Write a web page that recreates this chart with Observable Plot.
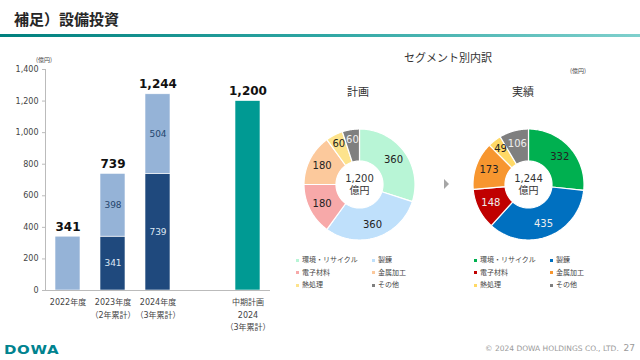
<!DOCTYPE html>
<html><head><meta charset="utf-8">
<script src="https://cdn.jsdelivr.net/npm/d3@7"></script>
<script src="https://cdn.jsdelivr.net/npm/@observablehq/plot@0.6"></script>
<style>
html,body{margin:0;padding:0;background:#fff;}
#page{position:relative;width:640px;height:360px;overflow:hidden;font-family:"DejaVu Sans","Noto Sans CJK JP",sans-serif;color:#333;}
.abs{position:absolute;white-space:nowrap;}
#title{left:14px;top:8px;font-family:"Noto Sans CJK JP";font-weight:700;font-size:15px;color:#262626;}
#rule{left:0;top:34px;width:640px;height:3px;background:linear-gradient(to right,#00807e,#2ea6a3 50%,#7fd0cd);}
.legend{font-family:"Noto Sans CJK JP";font-size:7px;color:#444;}
.legend span.sw{display:inline-block;width:3px;height:3px;margin-right:3px;vertical-align:middle;}
.tri{width:0;height:0;border-top:5px solid transparent;border-bottom:5px solid transparent;border-left:5px solid #a6a6a6;}
</style></head>
<body><div id="page">
<div id="title" class="abs">補足）設備投資</div>
<div id="rule" class="abs"></div>
<div class="abs" style="left:36px;top:55px;font-size:6px;font-family:'Noto Sans CJK JP';color:#444">(億円)</div>
<div id="bars" class="abs" style="left:0;top:50px"></div>
<div class="abs" style="left:400px;top:49px;width:96px;text-align:center;font-family:'Noto Sans CJK JP';font-size:11px;color:#333">セグメント別内訳</div>
<div class="abs" style="left:570px;top:66px;font-size:6px;font-family:'Noto Sans CJK JP';color:#444">(億円)</div>
<div class="abs" style="left:336px;top:83px;width:44px;text-align:center;font-family:'Noto Sans CJK JP';font-size:11px;color:#333">計画</div>
<div class="abs" style="left:501px;top:83px;width:44px;text-align:center;font-family:'Noto Sans CJK JP';font-size:11px;color:#333">実績</div>
<div id="donut1" class="abs" style="left:298.5px;top:124px"></div>
<div id="donut2" class="abs" style="left:467.5px;top:124px"></div>
<div class="abs tri" style="left:444px;top:179px"></div>
<div id="leg1" class="abs legend" style="left:296px;top:254px"></div>
<div id="leg2" class="abs legend" style="left:474px;top:254px"></div>
<div class="abs" style="left:4px;top:343px;font-family:'DejaVu Sans';font-weight:900;font-size:12px;color:#00838f;letter-spacing:0.5px;transform:scaleX(1.25);transform-origin:left center">DOWA</div>
<div class="abs" style="right:5px;top:343px;font-family:'DejaVu Sans';font-size:7.5px;color:#9a9a9a">© 2024 DOWA HOLDINGS CO., LTD.&nbsp;&nbsp;<span style="font-size:9px">27</span></div>
</div>
<script>
// ---- Bar chart data ----
const categories = ["2022年度", "2023年度\n（2年累計）", "2024年度\n（3年累計）", " ", "中期計画\n2024\n（3年累計）"];
const prevCumulative = [0, 341, 739];
const yearAmount = [341, 398, 504];
const totals = [341, 739, 1244];
const planValue = 1200;
const yTicks = [0, 200, 400, 600, 800, 1000, 1200, 1400];

// ---- Segment data ----
const segments = ["環境・リサイクル", "製錬", "電子材料", "金属加工", "熱処理", "その他"];
const planValues = [360, 360, 180, 180, 60, 60];
const actualValues = [332, 435, 148, 173, 49, 106];
const planTotal = 1200;
const actualTotal = 1244;
const planColors = ["#b8f5d6", "#bfe0fb", "#f7a9a9", "#fcc99c", "#fde38c", "#7f7f7f"];
const actualColors = ["#00b050", "#0070c0", "#c00000", "#f7962f", "#ffd966", "#7f7f7f"];
const planLabelLight = [false, false, false, false, false, true];
const actualLabelLight = [false, true, true, false, false, true];

const fontFam = "DejaVu Sans, Noto Sans CJK JP, sans-serif";

// bars
const stackRows = [];
categories.slice(0, 3).forEach((c, i) => {
  stackRows.push({cat: c, part: "prev", y1: 0, y2: prevCumulative[i], v: prevCumulative[i]});
  stackRows.push({cat: c, part: "year", y1: prevCumulative[i], y2: prevCumulative[i] + yearAmount[i], v: yearAmount[i]});
});
stackRows.push({cat: categories[4], part: "plan", y1: 0, y2: planValue, v: planValue});
const totalRows = categories.slice(0, 3).map((c, i) => ({cat: c, v: totals[i]})).concat([{cat: categories[4], v: planValue}]);
const innerRows = stackRows.filter(d => d.v > 0 && d.part !== "plan" && !(d.part === "year" && d.y1 === 0));

const barChart = Plot.plot({
  width: 280, height: 290,
  marginLeft: 45, marginRight: 10, marginTop: 19, marginBottom: 50,
  style: {fontFamily: fontFam, background: "transparent"},
  x: {domain: categories, paddingInner: 0.444, paddingOuter: 0.222, label: null},
  y: {domain: [0, 1400], label: null},
  color: {domain: ["prev", "year", "plan"], range: ["#1f497d", "#95b3d7", "#009a93"]},
  marks: [
    Plot.barY(stackRows, {x: "cat", y1: "y1", y2: "y2", fill: "part", stroke: "white", strokeWidth: 0.6}),
    Plot.text(innerRows.filter(d => d.part === "prev"), {x: "cat", y: d => (d.y1 + d.y2) / 2, text: d => d3.format(",")(d.v), fill: "#dde7f3", fontSize: 9}),
    Plot.text(innerRows.filter(d => d.part === "year"), {x: "cat", y: d => (d.y1 + d.y2) / 2, text: d => d3.format(",")(d.v), fill: "#24466e", fontSize: 9}),
    Plot.text(totalRows, {x: "cat", y: "v", text: d => d3.format(",")(d.v), dy: -10, fontSize: 12, fontWeight: "bold", fill: "#111"}),
    Plot.axisY({ticks: yTicks, tickFormat: d3.format(","), tickSize: 3, tickPadding: 4, fontSize: 8, fill: "#444", stroke: "#bbb", label: null}),
    Plot.axisX({tickSize: 0, tickPadding: 6, fontSize: 8, fill: "#444", lineHeight: 1.55, label: null}),
    Plot.ruleY([0], {stroke: "#bbb"}),
    Plot.frame({anchor: "left", stroke: "#bbb"})
  ]
});
document.getElementById("bars").appendChild(barChart);

// donuts
function donut(values, total, colors, lightFlags, el) {
  const sum = d3.sum(values);
  const R = 55.5, r = 23.5, N = 60;
  const poly = [], labels = [];
  let acc = 0;
  values.forEach((v, i) => {
    const a0 = acc / sum * 2 * Math.PI, a1 = (acc + v) / sum * 2 * Math.PI;
    acc += v;
    for (let k = 0; k <= N; k++) {
      const a = a0 + (a1 - a0) * k / N;
      poly.push({seg: segments[i], x: R * Math.sin(a), y: R * Math.cos(a)});
    }
    for (let k = N; k >= 0; k--) {
      const a = a0 + (a1 - a0) * k / N;
      poly.push({seg: segments[i], x: r * Math.sin(a), y: r * Math.cos(a)});
    }
    const am = (a0 + a1) / 2, lr = (a1 - a0) < 0.5 ? 45.5 : 42;
    labels.push({x: lr * Math.sin(am), y: lr * Math.cos(am), text: String(v), light: lightFlags[i]});
  });
  const chart = Plot.plot({
    width: 120, height: 120, margin: 0,
    style: {fontFamily: fontFam, background: "transparent"},
    x: {domain: [-60, 60], axis: null},
    y: {domain: [-60, 60], axis: null},
    color: {domain: segments, range: colors},
    marks: [
      Plot.line(poly, {x: "x", y: "y", z: "seg", fill: "seg", stroke: "white", strokeWidth: 1.2, curve: "linear-closed"}),
      Plot.text(labels.filter(d => !d.light), {x: "x", y: "y", text: "text", fontSize: 10, fill: "#222"}),
      Plot.text(labels.filter(d => d.light), {x: "x", y: "y", text: "text", fontSize: 10, fill: "#eeeeee"}),
      Plot.text([d3.format(",")(total) + "\n億円"], {frameAnchor: "middle", fontSize: 10, fill: "#333", lineHeight: 1.2})
    ]
  });
  document.getElementById(el).appendChild(chart);
}
donut(planValues, planTotal, planColors, planLabelLight, "donut1");
donut(actualValues, actualTotal, actualColors, actualLabelLight, "donut2");

function legend(colors, el) {
  const box = document.getElementById(el);
  const cols = [[0, 2, 4], [1, 3, 5]];
  cols.forEach((idx, ci) => {
    idx.forEach((i, ri) => {
      const d = document.createElement("div");
      d.style.position = "absolute";
      d.style.left = (ci * 76) + "px";
      d.style.top = (ri * 12.5) + "px";
      d.style.whiteSpace = "nowrap";
      d.innerHTML = `<span class="sw" style="background:${colors[i]}"></span>${segments[i]}`;
      box.appendChild(d);
    });
  });
}
legend(planColors, "leg1");
legend(actualColors, "leg2");
</script>
</body></html>
